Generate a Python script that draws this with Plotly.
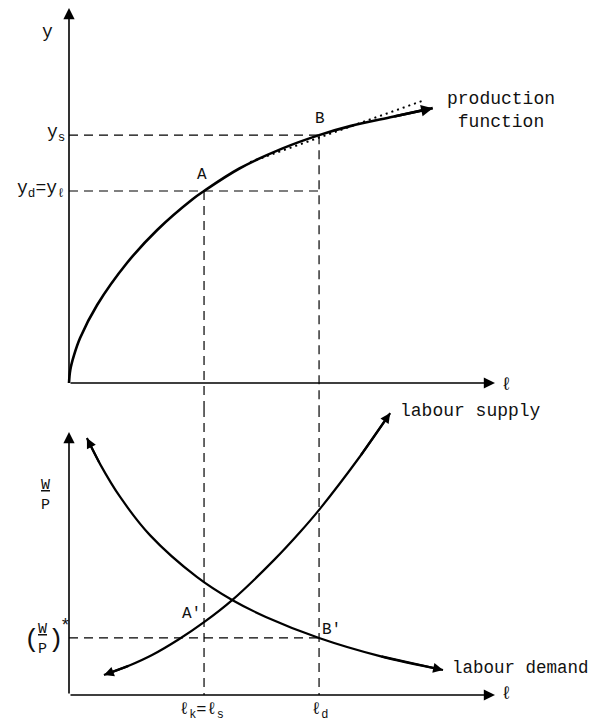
import plotly.graph_objects as go

# labour levels
l_s = 3.17      # l_k = l_s
l_d = 5.87
l_max = 10      # length of the labour axes
# output levels
y_l = 5.12      # y_d = y_l
y_s = 6.61
y_max = 10
# real wage
w_star = 2.17
w_max = 10

# production function
prod_l = [0, 0.03, 0.12, 0.26, 0.66, 1.36, 2.07, 2.9, 3.17, 4.0, 5.0, 5.87, 6.6, 7.6, 8.54]
prod_y = [0, 0.35, 0.75, 1.2, 2.08, 3.2, 4.08, 4.9, 5.12, 5.72, 6.25, 6.61, 6.85, 7.1, 7.33]

# dotted tangent at B
tang_l = [4.25, 8.36]
tang_y = [5.89, 7.55]

# labour supply and labour demand
sup_l = [0.82, 1.43, 1.95, 2.58, 3.17, 3.83, 4.81, 5.42, 5.89, 6.83, 7.54]
sup_w = [0.76, 1.13, 1.52, 2.12, 2.77, 3.61, 5.13, 6.19, 7.08, 9.07, 10.72]
dem_l = [0.42, 0.73, 1.2, 1.9, 3.0, 3.83, 4.62, 5.87, 7.3, 8.78]
dem_w = [9.77, 8.78, 7.53, 6.08, 4.49, 3.61, 2.97, 2.17, 1.48, 0.95]

x_range = [-1.432, 12.559]
top_range = [-0.667, 10.0]
bot_range = [-1.559, 10.913]
split = 0.4505

FONT = dict(family='Liberation Mono', size=18, color='#111111')
dash = '9px,6px'

fig = go.Figure()


def line(x, y, ax, width, dash=None, spline=False):
    fig.add_trace(go.Scatter(x=x, y=y, mode='lines',
                             line=dict(color='black', width=width, dash=dash,
                                       shape='spline' if spline else 'linear'),
                             xaxis='x' + ax, yaxis='y' + ax, hoverinfo='skip'))


# ---- top panel
line(prod_l, prod_y, '', 2.6, spline=True)
line(tang_l, tang_y, '', 2, dash='2px,4px')
line([0, l_d], [y_s, y_s], '', 1.2, dash)
line([0, l_d], [y_l, y_l], '', 1.2, dash)
line([l_s, l_s], [y_l, top_range[0]], '', 1.2, dash)
line([l_d, l_d], [y_s, top_range[0]], '', 1.2, dash)

# ---- bottom panel
line(sup_l, sup_w, '2', 2.2, spline=True)
line(dem_l, dem_w, '2', 2.2, spline=True)
line([0, l_d], [w_star, w_star], '2', 1.2, dash)
line([l_s, l_s], [bot_range[1], 0], '2', 1.2, dash)
line([l_d, l_d], [bot_range[1], 0], '2', 1.2, dash)


def arrow(xr, yr, tail, tip, width, size):
    fig.add_annotation(x=tip[0], y=tip[1], ax=tail[0], ay=tail[1],
                       xref=xr, yref=yr, axref=xr, ayref=yr, text='',
                       showarrow=True, arrowhead=2, arrowsize=size,
                       arrowwidth=width, arrowcolor='black', standoff=0)


def label(xr, yr, x, y, text, xanchor='center', yanchor='middle', dx=0, dy=0, size=18):
    fig.add_annotation(x=x, y=y, xref=xr, yref=yr, text=text, showarrow=False,
                       xanchor=xanchor, yanchor=yanchor, xshift=dx, yshift=dy,
                       font=dict(FONT, size=size))


# axes
arrow('x', 'y', (0, 0), (l_max, 0), 1.6, 1.4)
arrow('x', 'y', (0, 0), (0, y_max), 1.6, 1.4)
arrow('x2', 'y2', (0, 0), (l_max, 0), 1.6, 1.4)
arrow('x2', 'y2', (0, 0), (0, w_max), 1.6, 1.4)

# curve ends
arrow('x', 'y', (prod_l[-2], prod_y[-2]), (prod_l[-1], prod_y[-1]), 2.6, 0.9)
arrow('x2', 'y2', (sup_l[-2], sup_w[-2]), (sup_l[-1], sup_w[-1]), 2.2, 0.9)
arrow('x2', 'y2', (sup_l[1], sup_w[1]), (sup_l[0], sup_w[0]), 2.2, 0.9)
arrow('x2', 'y2', (dem_l[1], dem_w[1]), (dem_l[0], dem_w[0]), 2.2, 0.9)
arrow('x2', 'y2', (dem_l[-2], dem_w[-2]), (dem_l[-1], dem_w[-1]), 2.2, 0.9)

# top labels
label('x', 'y', 0, y_max, 'y', dx=-22, dy=-24)
label('x', 'y', l_max, 0, 'ℓ', xanchor='left', dx=4, dy=-2)
label('x', 'y', 0, y_s, 'y<sub>s</sub>', xanchor='right', dx=-2, dy=2)
label('x', 'y', 0, y_l, 'y<sub>d</sub>=y<sub>ℓ</sub>', xanchor='right', dx=-2, dy=2)
label('x', 'y', l_s, y_l, 'A', dx=-2, dy=16, size=16)
label('x', 'y', l_d, y_s, 'B', dx=1, dy=16, size=16)
label('x', 'y', prod_l[-1], prod_y[-1], 'production<br>function', xanchor='left', dx=12, dy=-2)

# bottom labels
label('x2', 'y2', l_max, 0, 'ℓ', xanchor='left', dx=4, dy=1)
label('x2', 'y2', 0, 7.57, '<u>W</u><br>P', dx=-24, size=15)
label('x2', 'y2', 0, w_star, '<u>W</u><br>P', dx=-27, dy=-2, size=15)
label('x2', 'y2', 0, w_star, '(', dx=-37, dy=-2, size=26)
label('x2', 'y2', 0, w_star, ')', dx=-13, dy=-2, size=26)
label('x2', 'y2', 0, w_star, '*', dx=-4, dy=12, size=18)
label('x2', 'y2', l_s, sup_w[4], "A'", xanchor='right', dx=-1, dy=8, size=16)
label('x2', 'y2', l_d, w_star, "B'", xanchor='left', dx=1, dy=8, size=16)
label('x2', 'y2', sup_l[-1], sup_w[-1], 'labour supply', xanchor='left', dx=8, dy=2)
label('x2', 'y2', dem_l[-1], dem_w[-1], 'labour demand', xanchor='left', dx=7, dy=2, size=17.5)
label('x2', 'y2', l_s, 0, 'ℓ<sub>k</sub>=ℓ<sub>s</sub>', yanchor='top', dx=-3, dy=-3, size=17)
label('x2', 'y2', l_d, 0, 'ℓ<sub>d</sub>', yanchor='top', dy=-3, size=17)

hidden = dict(visible=False, showgrid=False, zeroline=False, fixedrange=True)
fig.update_layout(
    width=596, height=728,
    margin=dict(l=0, r=0, t=0, b=0),
    paper_bgcolor='white', plot_bgcolor='white',
    showlegend=False,
    xaxis=dict(hidden, domain=[0, 1], range=x_range, anchor='y'),
    yaxis=dict(hidden, domain=[split, 1], range=top_range, anchor='x'),
    xaxis2=dict(hidden, domain=[0, 1], range=x_range, anchor='y2'),
    yaxis2=dict(hidden, domain=[0, split], range=bot_range, anchor='x2'),
)

fig.write_html("out.html")
